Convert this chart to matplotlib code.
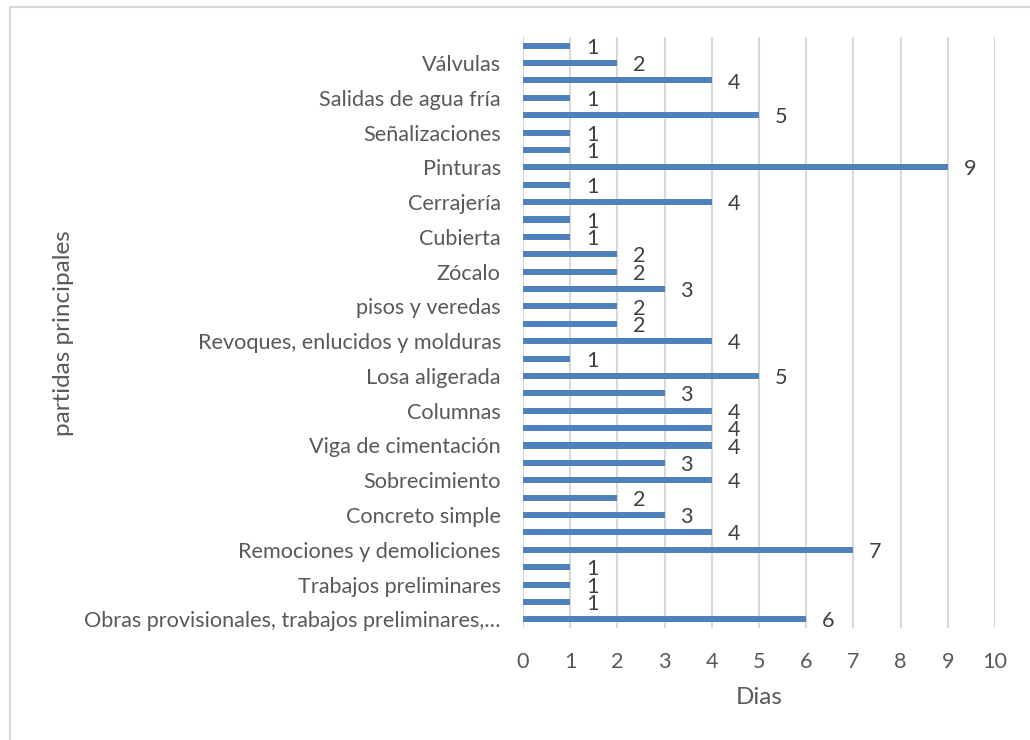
import matplotlib
matplotlib.use("Agg")
import matplotlib.pyplot as plt
from matplotlib.lines import Line2D

# Rows listed from the bottom of the chart upwards; unnamed rows carry no label
tareas = [
    "Obras provisionales, trabajos preliminares,…", "",
    "Trabajos preliminares", "",
    "Remociones y demoliciones", "",
    "Concreto simple", "",
    "Sobrecimiento", "",
    "Viga de cimentación", "",
    "Columnas", "",
    "Losa aligerada", "",
    "Revoques, enlucidos y molduras", "",
    "pisos y veredas", "",
    "Zócalo", "",
    "Cubierta", "",
    "Cerrajería", "",
    "Pinturas", "",
    "Señalizaciones", "",
    "Salidas de agua fría", "",
    "Válvulas", "",
]
dias = [6, 1, 1, 1, 7, 4, 3, 2, 4, 3, 4, 4, 4, 3, 5, 1, 4,
        2, 2, 3, 2, 2, 1, 1, 4, 1, 9, 1, 1, 5, 1, 4, 2, 1]
x_ticks = list(range(0, 11))

plt.rcParams["font.family"] = ["Lato", "DejaVu Sans"]
TXT = "#595959"
BAR = "#4F81BD"
GRID = "#D9D9D9"
FS = 15.6
FS_TITLE = 17.5

fig = plt.figure(figsize=(10.3, 7.4), dpi=100)
ax = fig.add_axes([523 / 1030, 1 - 628 / 740, (995 - 523) / 1030, (628 - 37) / 740])

pos = list(range(len(dias)))
ax.barh(pos, dias, height=0.35, color=BAR, zorder=3)

for p, v in zip(pos, dias):
    ax.annotate(str(v), xy=(v, p), xytext=(16, -1.5), textcoords="offset points",
                ha="center", va="center", fontsize=FS, color="#404040", zorder=4)

ax.set_xlim(0, 10)
ax.set_ylim(-0.5, len(dias) - 0.5)
ax.set_xticks(x_ticks)
ax.set_xticklabels([str(t) for t in x_ticks])
ax.set_yticks(pos[::2])
ax.set_yticklabels(tareas[::2])

ax.grid(axis="x", color=GRID, linewidth=1.5, zorder=0)
for s in ax.spines.values():
    s.set_visible(False)
ax.tick_params(axis="both", length=0, labelsize=FS, labelcolor=TXT)
ax.tick_params(axis="y", pad=16)
ax.tick_params(axis="x", pad=17)

ax.set_xlabel("Dias", fontsize=FS_TITLE, color=TXT)
ax.xaxis.set_label_coords(0.5, (628 - 697) / (628 - 37))
ax.xaxis.label.set_va("center")
ax.set_ylabel("partidas principales", fontsize=FS_TITLE, color=TXT)
ax.yaxis.set_label_coords((63 - 523) / (995 - 523), (628 - 333) / (628 - 37))
ax.yaxis.label.set_va("center")

# chart-area frame (left and top edges)
fig.add_artist(Line2D([10 / 1030, 10 / 1030], [0, 1 - 7 / 740], color=GRID,
                      linewidth=1.5, transform=fig.transFigure))
fig.add_artist(Line2D([10 / 1030, 1], [1 - 7 / 740, 1 - 7 / 740], color=GRID,
                      linewidth=1.5, transform=fig.transFigure))

fig.savefig("out.png", dpi=100)
